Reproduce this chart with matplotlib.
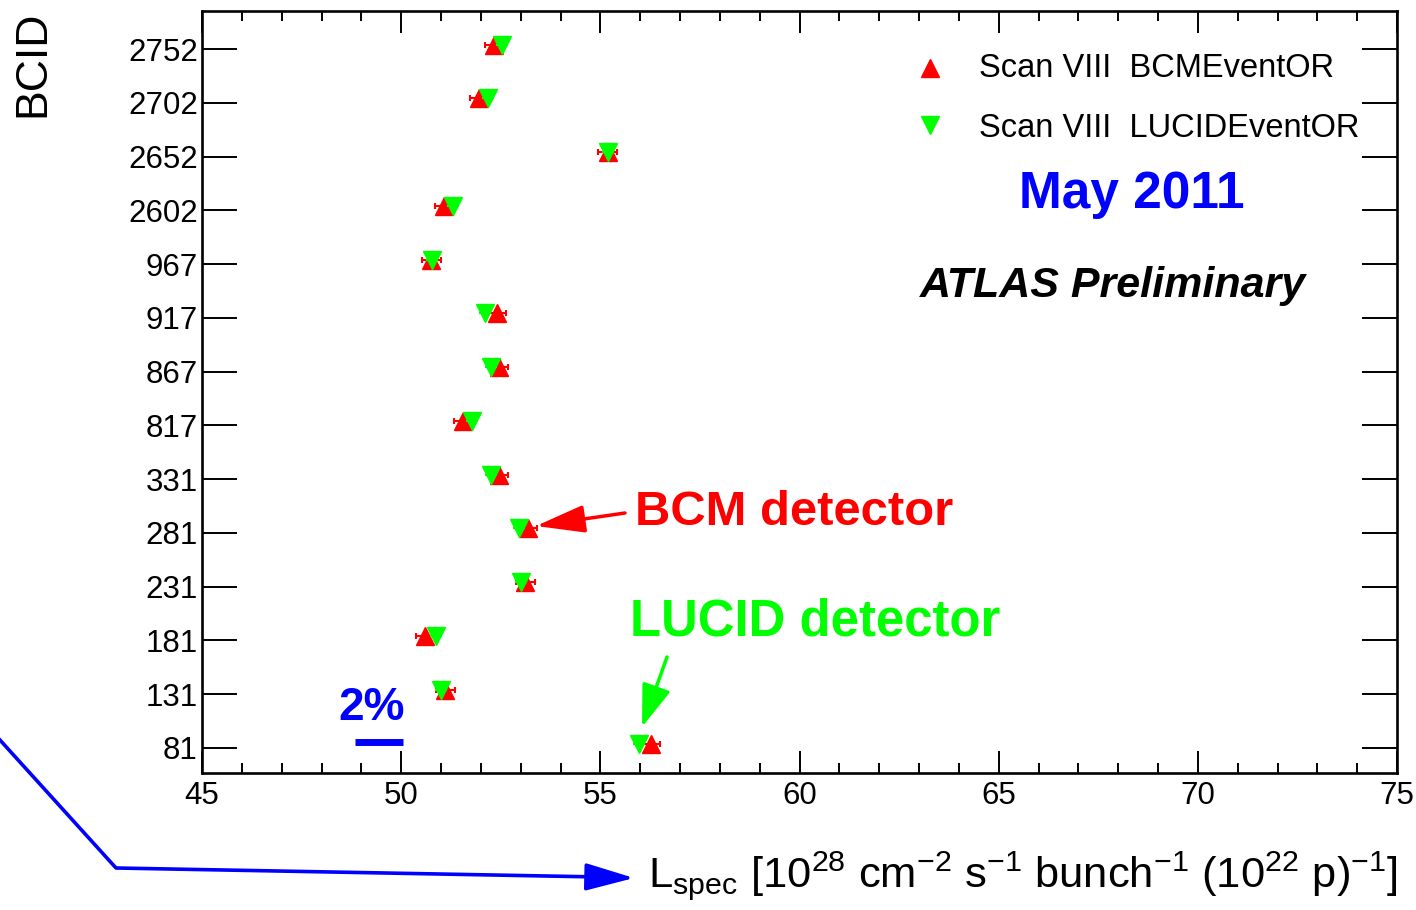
import matplotlib
matplotlib.use("Agg")
import matplotlib.pyplot as plt
import matplotlib.transforms as mtransforms
from matplotlib.lines import Line2D
from matplotlib.ticker import MultipleLocator, FixedLocator
import numpy as np

plt.rcParams['font.family'] = ['Liberation Sans', 'DejaVu Sans']
plt.rcParams['mathtext.fontset'] = 'custom'
plt.rcParams['mathtext.rm'] = 'Liberation Sans'
plt.rcParams['mathtext.it'] = 'Liberation Sans:italic'
plt.rcParams['mathtext.bf'] = 'Liberation Sans:bold'

# ---- data ----
bcid_labels = ["81", "131", "181", "231", "281", "331", "817", "867", "917", "967",
               "2602", "2652", "2702", "2752"]
bcm_values = [56.26, 51.11, 50.60, 53.12, 53.18, 52.45, 51.56, 52.46, 52.40, 50.76,
              51.08, 55.18, 51.95, 52.33]
lucid_values = [55.96, 50.99, 50.87, 53.00, 52.96, 52.25, 51.78, 52.25, 52.11, 50.77,
                51.31, 55.19, 52.18, 52.53]
bcm_errors = [0.23] * len(bcid_labels)
lucid_errors = [0.15] * len(bcid_labels)
series_labels = ["Scan VIII  BCMEventOR", "Scan VIII  LUCIDEventOR"]
scale_bar = [48.85, 50.05]   # 2% reference bar

W, H = 1416, 910
RED, GREEN, BLUE = "#ff0000", "#00ff00", "#0000ff"

fig = plt.figure(figsize=(W / 100, H / 100), dpi=100)
ax = fig.add_axes([202 / W, 1 - 773 / H, 1195 / W, 762 / H])

def fp(x, y):
    return (x / W, 1 - y / H)

ypos = np.arange(len(bcid_labels))
# ROOT triangle markers sit slightly above the bin centre
mk_tr = mtransforms.offset_copy(ax.transData, fig=fig, x=0, y=3.2, units='points')

ax.errorbar(bcm_values, ypos, xerr=bcm_errors, fmt='^', color=RED, ms=12.5,
            mec=RED, mfc=RED, ecolor=RED, elinewidth=1.5, capsize=2.5, capthick=1.5,
            transform=mk_tr, zorder=3)
ax.errorbar(lucid_values, ypos, xerr=lucid_errors, fmt='v', color=GREEN, ms=12.5,
            mec=GREEN, mfc=GREEN, ecolor=GREEN, elinewidth=1.5, capsize=0,
            transform=mk_tr, zorder=4)

ax.set_xlim(45, 75)
ax.set_ylim(-0.465, 13.707)
ax.xaxis.set_major_locator(MultipleLocator(5))
ax.xaxis.set_minor_locator(MultipleLocator(1))
ax.yaxis.set_major_locator(FixedLocator(ypos))
ax.set_yticklabels(bcid_labels)
ax.yaxis.set_minor_locator(FixedLocator([]))

ax.tick_params(axis='x', which='major', direction='in', length=15.8, width=1.4,
               top=True, bottom=True, labelsize=22.5, pad=6)
ax.tick_params(axis='x', which='minor', direction='in', length=7.2, width=1.4,
               top=True, bottom=True)
ax.tick_params(axis='y', which='major', direction='in', length=25, width=1.4,
               left=True, right=True, labelsize=22.5, pad=3)
for s in ax.spines.values():
    s.set_linewidth(1.9)

# 2% scale bar
ax.plot(scale_bar, [0.11, 0.11], color=BLUE, lw=5, solid_capstyle='butt', zorder=2)
fig.text(*fp(338, 720), "2%", color=BLUE, fontsize=33, fontweight='bold',
         ha='left', va='baseline')

# legend (manual, ROOT-style)
fig.add_artist(Line2D([930 / W], [1 - 68 / H], marker='^', color=RED, ms=12.5,
                      transform=fig.transFigure, linestyle='none'))
fig.add_artist(Line2D([930 / W], [1 - 125 / H], marker='v', color=GREEN, ms=12.5,
                      transform=fig.transFigure, linestyle='none'))
fig.text(*fp(979, 77), series_labels[0], fontsize=23.5, ha='left', va='baseline')
fig.text(*fp(979, 137), series_labels[1], fontsize=23.5, ha='left', va='baseline')

fig.text(*fp(1019, 208), "May 2011", color=BLUE, fontsize=37, fontweight='bold',
         ha='left', va='baseline')
fig.text(*fp(920, 297), "ATLAS Preliminary", fontsize=31, fontweight='bold',
         style='italic', ha='left', va='baseline')

fig.text(*fp(635, 525), "BCM detector", color=RED, fontsize=35.3, fontweight='bold',
         ha='left', va='baseline')
fig.text(*fp(630, 635), "LUCID detector", color=GREEN, fontsize=36.6, fontweight='bold',
         ha='left', va='baseline')

# arrows
def arrow(tip, tail, color, hl, hw):
    ax.annotate("", xy=fp(*tip), xytext=fp(*tail), xycoords='figure fraction',
                textcoords='figure fraction', annotation_clip=False,
                arrowprops=dict(arrowstyle=f'-|>,head_length={hl},head_width={hw}',
                                mutation_scale=1, color=color, lw=2.5,
                                shrinkA=0, shrinkB=0))

arrow((536, 526), (625, 513), RED, 30, 8.5)
arrow((642, 727), (667, 657), GREEN, 26, 9)
fig.add_artist(Line2D([-20 / W, 116 / W, 600 / W],
                      [1 - 718 / H, 1 - 868 / H, 1 - 877 / H],
                      color=BLUE, lw=2.6, transform=fig.transFigure))
arrow((634, 878), (590, 877), BLUE, 30, 8.5)

# axis titles
fig.text(*fp(1398, 887),
         r'L$_{\mathregular{spec}}$ [10$^{\mathregular{28}}$ cm$^{\mathregular{-2}}$ '
         r's$^{\mathregular{-1}}$ bunch$^{\mathregular{-1}}$ (10$^{\mathregular{22}}$ p)'
         r'$^{\mathregular{-1}}$]',
         fontsize=31.3, ha='right', va='baseline')
fig.text(*fp(33, 11), "BCID", fontsize=32, rotation=90, ha='center', va='top')

fig.savefig("out.png", dpi=100)
